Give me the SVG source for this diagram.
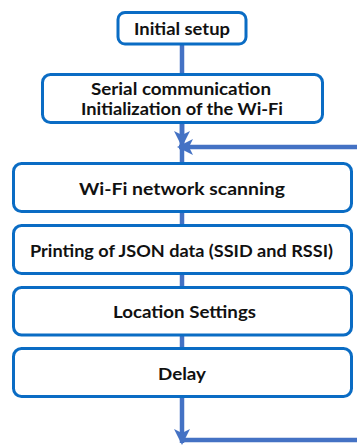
<svg xmlns="http://www.w3.org/2000/svg" width="357" height="446" viewBox="0 0 357 446">
<defs>
<marker id="ah" viewBox="0 0 16 16" refX="14" refY="8" markerWidth="16" markerHeight="16" markerUnits="userSpaceOnUse" orient="auto">
<path d="M0,0 L16,8 L0,16 L4,8 Z" fill="#4472C4"/>
</marker>
<style>
.box{fill:#fff;stroke:#0A6CC4;stroke-width:3}
.lbl{font-family:Lato,"Liberation Sans",Arial,sans-serif;font-weight:bold;font-size:17.5px;fill:#111;text-anchor:middle;dominant-baseline:central}
.con{stroke:#4472C4;stroke-width:4.5;fill:none}
</style>
</defs>
<rect width="357" height="446" fill="#fff"/>
<g id="connectors">
<line class="con" x1="182" y1="44" x2="182" y2="74"/>
<line class="con" x1="182" y1="123" x2="182" y2="163"/>
<line class="con" x1="182" y1="123" x2="182" y2="145" marker-end="url(#ah)"/>
<line class="con" x1="360" y1="147" x2="179" y2="147" marker-end="url(#ah)"/>
<line class="con" x1="182" y1="212" x2="182" y2="225"/>
<line class="con" x1="182" y1="274" x2="182" y2="287"/>
<line class="con" x1="182" y1="335" x2="182" y2="348"/>
<line class="con" x1="182" y1="397" x2="182" y2="443" marker-end="url(#ah)"/>
<line class="con" x1="182" y1="440" x2="360" y2="440"/>
</g>
<g id="n1"><rect class="box" x="118" y="12.5" width="128" height="31.5" rx="7"/><text class="lbl" x="182" y="28.5" textLength="96" lengthAdjust="spacingAndGlyphs">Initial setup</text></g>
<g id="n2"><rect class="box" x="42.5" y="74.5" width="280" height="48" rx="8"/><text class="lbl" x="181" y="88" textLength="180" lengthAdjust="spacingAndGlyphs">Serial communication</text><text class="lbl" x="182" y="108" textLength="202" lengthAdjust="spacingAndGlyphs">Initialization of the Wi-Fi</text></g>
<g id="n3"><rect class="box" x="13.5" y="163.5" width="338" height="48" rx="8"/><text class="lbl" x="182" y="188" textLength="206" lengthAdjust="spacingAndGlyphs">Wi-Fi network scanning</text></g>
<g id="n4"><rect class="box" x="13.5" y="225.5" width="338" height="48" rx="8"/><text class="lbl" x="181.5" y="250" textLength="303" lengthAdjust="spacingAndGlyphs">Printing of JSON data (SSID and RSSI)</text></g>
<g id="n5"><rect class="box" x="13.5" y="287.5" width="338" height="47.5" rx="8"/><text class="lbl" x="184.5" y="311.5" textLength="143" lengthAdjust="spacingAndGlyphs">Location Settings</text></g>
<g id="n6"><rect class="box" x="13.5" y="348.5" width="338" height="48" rx="8"/><text class="lbl" x="182" y="373" textLength="48" lengthAdjust="spacingAndGlyphs">Delay</text></g>
</svg>
